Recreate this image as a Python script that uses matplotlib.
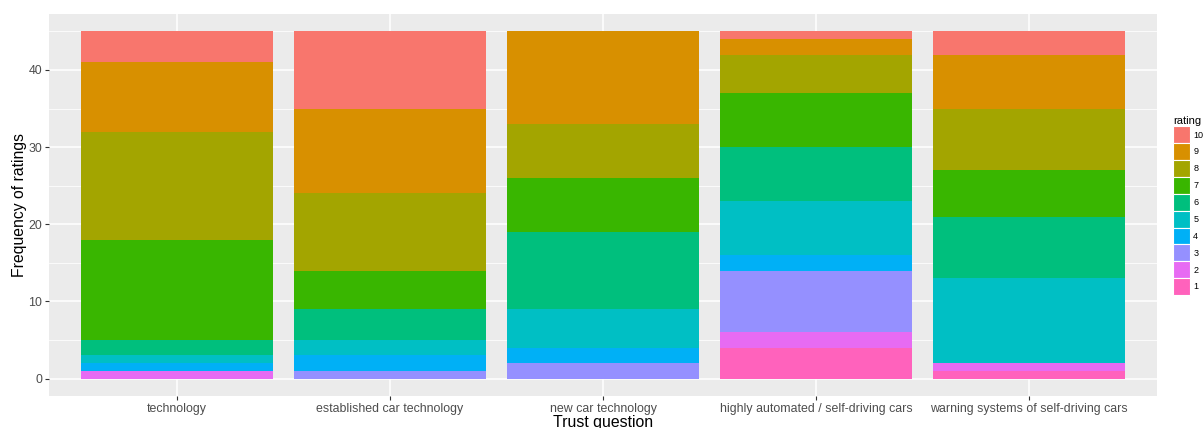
import numpy as np
import matplotlib
matplotlib.use('Agg')
import matplotlib.pyplot as plt
from matplotlib.patches import Patch

plt.rcParams['font.family'] = ['Liberation Sans', 'DejaVu Sans']

questions = ['technology', 'established car technology', 'new car technology',
             'highly automated / self-driving cars', 'warning systems of self-driving cars']
ratings = [1, 2, 3, 4, 5, 6, 7, 8, 9, 10]
# counts per rating (rows) for each question (columns)
counts = {
    1:  [0, 0, 0, 4, 1],
    2:  [1, 0, 0, 2, 1],
    3:  [0, 1, 2, 8, 0],
    4:  [1, 2, 2, 2, 0],
    5:  [1, 2, 5, 7, 11],
    6:  [2, 4, 10, 7, 8],
    7:  [13, 5, 7, 7, 6],
    8:  [14, 10, 7, 5, 8],
    9:  [9, 11, 12, 2, 7],
    10: [4, 10, 0, 1, 3],
}
colors = {10: '#F8766D', 9: '#D89000', 8: '#A3A500', 7: '#39B600', 6: '#00BF7D',
          5: '#00BFC4', 4: '#00B0F6', 3: '#9590FF', 2: '#E76BF3', 1: '#FF62BC'}

fig = plt.figure(figsize=(12.03, 4.28), dpi=100)
ax = fig.add_axes([49/1203, 1 - 396/428, (1157 - 49)/1203, (396 - 14)/428])
ax.set_facecolor('#EBEBEB')

x = np.arange(1, len(questions) + 1)
bottom = np.zeros(len(questions))
for r in ratings:
    v = np.array(counts[r], dtype=float)
    ax.bar(x, v, width=0.9, bottom=bottom, color=colors[r], linewidth=0, zorder=3)
    bottom += v

ax.set_xlim(0.4, 5.6)
ax.set_ylim(-2.25, 47.25)
ax.set_xticks(x)
ax.set_xticklabels(questions)
ax.set_yticks([0, 10, 20, 30, 40])
ax.set_yticks([5, 15, 25, 35, 45], minor=True)
ax.grid(which='major', color='white', linewidth=1.1, zorder=0)
ax.grid(which='minor', axis='y', color='white', linewidth=0.55, zorder=0)
for s in ax.spines.values():
    s.set_visible(False)
ax.tick_params(which='major', length=3, color='#333333', labelcolor='#4D4D4D',
               labelsize=8.9, pad=2)
ax.tick_params(which='minor', length=0)

ax.set_xlabel('Trust question', fontsize=11.4, color='black', labelpad=0)
ax.set_ylabel('Frequency of ratings', fontsize=11.3, color='black', labelpad=1)

handles = [Patch(facecolor=colors[r], edgecolor='white', linewidth=0.8, label=str(r))
           for r in ratings[::-1]]
leg = fig.legend(handles=handles, title='rating', loc='upper left',
                 bbox_to_anchor=(1167/1203, 1 - 110/428), frameon=False,
                 fontsize=6.5, title_fontsize=8, handlelength=1.8, handleheight=2.5,
                 handletextpad=0.4, labelspacing=0.0, borderpad=0.2,
                 alignment='left')

fig.savefig('out.png', dpi=100)
